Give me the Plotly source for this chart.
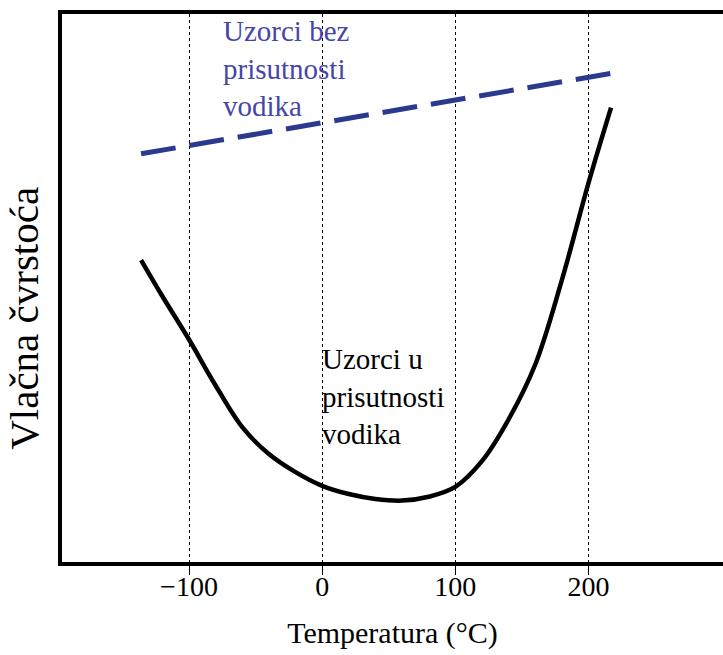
import plotly.graph_objects as go

# Data (temperature in °C, strength in arbitrary units 0-100)
temp_h = [-136, -120, -100, -80, -60, -40, -20, 0, 20, 40, 60, 80, 100,
          120, 140, 160, 180, 200, 217]
strength_h = [55.1, 48.5, 40.6, 32.2, 24.6, 19.7, 16.4, 13.9, 12.4, 11.5, 11.2, 11.9, 13.7,
              18.4, 26.0, 36.0, 51.4, 69.1, 82.9]

temp_free = [-136.0, 218.0]
strength_free = [74.5, 89.2]

tick_vals = [-100, 0, 100, 200]
tick_text = ["\u2212100", "0", "100", "200"]

label_free = "Uzorci bez<br>prisutnosti<br>vodika"
label_h = "Uzorci u<br>prisutnosti<br>vodika"
x_title = "Temperatura (°C)"
y_title = "Vlačna čvrstoća"

FONT = "Liberation Serif, Times New Roman, serif"

fig = go.Figure()
fig.add_trace(go.Scatter(
    x=temp_free, y=strength_free, mode="lines",
    line=dict(color="#2b3a8f", width=5, dash="35px,14px"),
    showlegend=False, hoverinfo="skip"))
fig.add_trace(go.Scatter(
    x=temp_h, y=strength_h, mode="lines",
    line=dict(color="black", width=4.5, shape="spline", smoothing=1.0),
    showlegend=False, hoverinfo="skip"))

fig.add_annotation(x=-76.3, y=90.1, xref="x", yref="y", text=label_free,
                   showarrow=False, xanchor="left", yanchor="middle", align="left",
                   font=dict(family=FONT, size=29, color="#4646a8"))
fig.add_annotation(x=-1.5, y=30.2, xref="x", yref="y", text=label_h,
                   showarrow=False, xanchor="left", yanchor="middle", align="left",
                   font=dict(family=FONT, size=29, color="black"))
fig.add_annotation(x=-0.058, y=0.445, xref="paper", yref="paper", text=y_title,
                   showarrow=False, textangle=-90, xanchor="center", yanchor="middle",
                   font=dict(family=FONT, size=41, color="black"))

fig.update_layout(
    width=723, height=655,
    margin=dict(l=62, r=0, t=14, b=93),
    paper_bgcolor="white", plot_bgcolor="white",
    font=dict(family=FONT, color="black"),
    xaxis=dict(
        range=[-195.4, 301.1], tickvals=tick_vals, ticktext=tick_text,
        showgrid=True, gridcolor="black", gridwidth=1, griddash="dot",
        zeroline=False, showline=True, linecolor="black", linewidth=4, mirror=True,
        ticks="outside", ticklen=9, tickcolor="black", tickwidth=1,
        ticklabelstandoff=-13,
        tickfont=dict(family=FONT, size=28, color="black"),
        title=dict(text=x_title, font=dict(family=FONT, size=30, color="black"), standoff=22),
    ),
    yaxis=dict(
        range=[0, 100], showticklabels=False, showgrid=False, zeroline=False,
        showline=True, linecolor="black", linewidth=4, mirror=False, ticks="",
    ),
)

fig.write_html("out.html", config={"displayModeBar": False},
               post_script="document.body.style.margin='0';document.body.style.overflow='hidden';")
